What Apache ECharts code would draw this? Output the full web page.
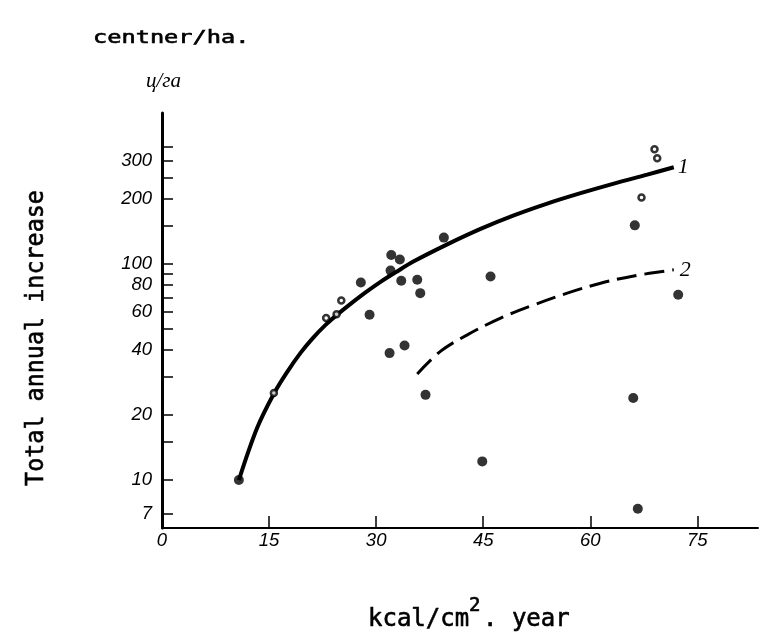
<!DOCTYPE html>
<html><head><meta charset="utf-8">
<script src="https://cdn.jsdelivr.net/npm/echarts@6/dist/echarts.min.js"></script>
<style>html,body{margin:0;padding:0;background:#fff}#c{width:759px;height:641px}</style>
</head><body><div id="c"></div>
<script>
// axis ticks / labels
const xTickValues = [15, 30, 45, 60, 75];
const xLabelValues = [0, 15, 30, 45, 60, 75];
const yLabelValues = [7, 10, 20, 40, 60, 80, 100, 200, 300];
const yTickValues = [7, 10, 15, 20, 30, 40, 50, 60, 70, 80, 90, 100, 150, 200, 250, 300, 350];

// curve 1 (solid)
const curve1X = [10.77, 13.35, 15.67, 17.55, 19.41, 21.10, 22.92, 24.60, 26.42, 28.52, 30.62, 32.72, 35.28, 39.96, 44.63, 49.29, 53.97, 58.64, 63.30, 67.98, 71.70];
const curve1Y = [10.0, 17.5, 25.1, 31.7, 38.8, 45.3, 52.3, 58.5, 65.4, 73.9, 82.7, 91.5, 102.9, 123.3, 145.4, 167.9, 190.4, 212.7, 235.6, 259.2, 280.5];

// curve 2 (dashed)
const curve2X = [35.76, 39.0, 42.77, 47.43, 52.1, 56.77, 61.44, 66.1, 71.7];
const curve2Y = [31.0, 39.4, 47.0, 56.2, 64.7, 73.3, 81.5, 88.1, 94.0];

// filled observations
const filledX = [10.77, 27.86, 29.08, 32.12, 33.32, 32.02, 33.52, 35.76, 36.18, 39.49, 31.88, 33.98, 36.92, 44.87, 46.03, 66.02, 66.66, 66.24, 72.32];
const filledY = [10, 82.1, 58.2, 110, 105, 93.2, 83.6, 84.6, 73.3, 132.5, 38.7, 42.0, 24.8, 12.2, 87.5, 24.0, 7.37, 151, 72.0];

// open observations
const openX = [15.67, 23.0, 24.46, 25.12, 69.0, 69.38, 67.18];
const openY = [25.3, 56.2, 58.6, 67.8, 340, 309, 203];

const zip = (a, b) => a.map((v, i) => [v, b[i]]);

const mono = 'DejaVu Sans Mono';
const ink = {fill: '#000', stroke: '#000', lineWidth: 0.6};
const chart = echarts.init(document.getElementById('c'), null, {renderer: 'canvas'});
chart.setOption({
  animation: false,
  backgroundColor: '#fff',
  grid: {left: 162, right: 1, top: 113, bottom: 113, containLabel: false},
  xAxis: {
    type: 'value', min: 0, max: 83.5,
    axisLine: {show: true, lineStyle: {color: '#000', width: 2}},
    axisTick: {show: true, inside: true, length: 12, customValues: xTickValues, lineStyle: {color: '#000', width: 1.5}},
    axisLabel: {show: true, customValues: xLabelValues, margin: 3, color: '#000', fontStyle: 'italic', fontFamily: 'Liberation Sans', fontSize: 18.5},
    splitLine: {show: false}
  },
  yAxis: {
    type: 'log', logBase: 10, min: 6, max: 500,
    axisLine: {show: true, lineStyle: {color: '#000', width: 3}},
    axisTick: {show: true, inside: true, length: 11, customValues: yTickValues, lineStyle: {color: '#000', width: 1.5}},
    axisLabel: {show: true, customValues: yLabelValues, margin: 10, color: '#000', fontStyle: 'italic', fontFamily: 'Liberation Sans', fontSize: 18.5, formatter: v => String(Math.round(v))},
    splitLine: {show: false}
  },
  series: [
    {
      type: 'line', data: zip(curve1X, curve1Y), smooth: 0.35, showSymbol: false, symbol: 'none',
      lineStyle: {color: '#000', width: 4}, z: 2,
      endLabel: {show: true, formatter: '1', distance: 4, color: '#000', fontStyle: 'italic', fontFamily: 'Liberation Serif', fontSize: 22}
    },
    {
      type: 'line', data: zip(curve2X, curve2Y), smooth: 0.35, showSymbol: false, symbol: 'none',
      lineStyle: {color: '#000', width: 3, type: [20, 8]}, z: 2,
      endLabel: {show: true, formatter: '2', distance: 6, color: '#000', fontStyle: 'italic', fontFamily: 'Liberation Serif', fontSize: 22}
    },
    {
      type: 'scatter', data: zip(filledX, filledY), symbol: 'circle', symbolSize: 10,
      itemStyle: {color: '#000'}, z: 3
    },
    {
      type: 'scatter', data: zip(openX, openY), symbol: 'circle', symbolSize: 6,
      itemStyle: {color: '#fff', borderColor: '#000', borderWidth: 2.5}, z: 3
    }
  ],
  graphic: [
    {type: 'text', x: 93, y: 38, scaleX: 1.35,
      style: Object.assign({text: 'centner/ha.', fontFamily: mono, fontSize: 17.5, align: 'left', verticalAlign: 'middle'}, ink)},
    {type: 'text', x: 146, y: 81,
      style: {text: 'ц/га', fontFamily: 'Liberation Serif', fontStyle: 'italic', fontSize: 21, fill: '#000', align: 'left', verticalAlign: 'middle'}},
    {type: 'text', x: 37, y: 338, rotation: Math.PI / 2, scaleX: 0.975,
      style: Object.assign({text: 'Total annual increase', fontFamily: mono, fontSize: 24, align: 'center', verticalAlign: 'middle'}, ink)},
    {type: 'group', children: [
      {type: 'text', x: 368, y: 620,
        style: Object.assign({text: 'kcal/cm', fontFamily: mono, fontSize: 24, align: 'left', verticalAlign: 'middle'}, ink)},
      {type: 'text', x: 469, y: 606,
        style: Object.assign({text: '2', fontFamily: mono, fontSize: 19, align: 'left', verticalAlign: 'middle'}, ink)},
      {type: 'text', x: 483, y: 620,
        style: Object.assign({text: '. year', fontFamily: mono, fontSize: 24, align: 'left', verticalAlign: 'middle'}, ink)}
    ]}
  ]
});
</script>
</body></html>
